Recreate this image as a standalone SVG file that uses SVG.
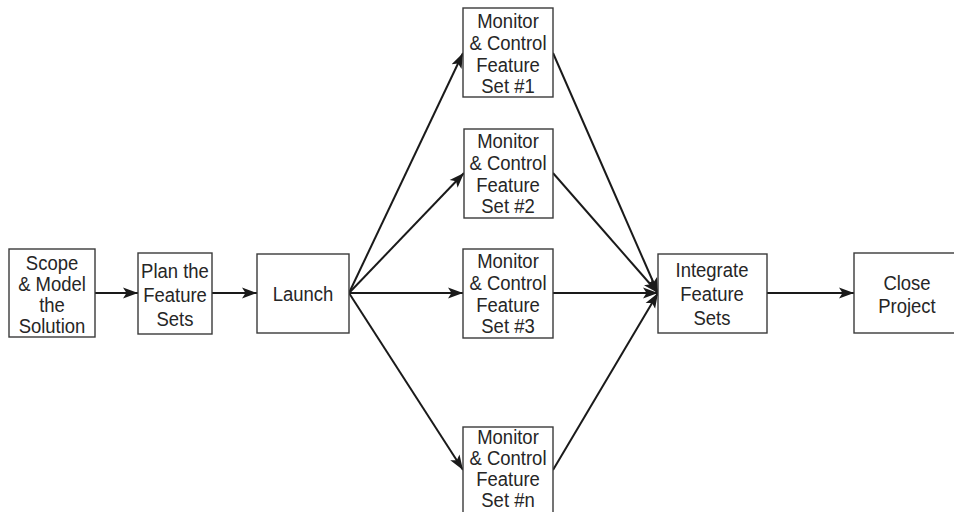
<svg xmlns="http://www.w3.org/2000/svg" width="954" height="512" viewBox="0 0 954 512">
<style>
.box{fill:#fff;stroke:#3a3a3a;stroke-width:1.4}
.lbl{font-family:"Liberation Sans",Arial,sans-serif;font-size:21px;fill:#262626;text-anchor:middle}
.con{stroke:#1a1a1a;stroke-width:2;fill:none;marker-end:url(#ah)}
</style>
<defs>
<marker id="ah" markerUnits="userSpaceOnUse" markerWidth="16" markerHeight="12" refX="15" refY="6" orient="auto">
<path d="M0,0.5 L15,6 L0,11.5 L3.5,6 Z" fill="#1a1a1a"/>
</marker>
</defs>
<rect width="954" height="512" fill="#fff"/>
<g id="connectors">
<line class="con" x1="95" y1="293" x2="138" y2="293"/>
<line class="con" x1="212" y1="293" x2="257" y2="293"/>
<line class="con" x1="349" y1="293" x2="463" y2="53"/>
<line class="con" x1="349" y1="293" x2="464" y2="173"/>
<line class="con" x1="349" y1="293" x2="463" y2="293"/>
<line class="con" x1="349" y1="293" x2="463" y2="470"/>
<line class="con" x1="553" y1="53" x2="658" y2="293"/>
<line class="con" x1="553" y1="173" x2="658" y2="293"/>
<line class="con" x1="553" y1="293" x2="658" y2="293"/>
<line class="con" x1="553" y1="470" x2="658" y2="293"/>
<line class="con" x1="767" y1="293" x2="854" y2="293"/>
</g>
<g id="scope">
<rect class="box" x="9" y="249" width="86" height="88"/>
<text class="lbl" transform="translate(52,0) scale(0.88,1)"><tspan x="0" y="270">Scope</tspan><tspan x="0" y="291">&amp; Model</tspan><tspan x="0" y="312">the</tspan><tspan x="0" y="333">Solution</tspan></text>
</g>
<g id="plan">
<rect class="box" x="138" y="253" width="74" height="81"/>
<text class="lbl" transform="translate(175,0) scale(0.88,1)"><tspan x="0" y="278">Plan the</tspan><tspan x="0" y="302">Feature</tspan><tspan x="0" y="326">Sets</tspan></text>
</g>
<g id="launch">
<rect class="box" x="257" y="254" width="92" height="79"/>
<text class="lbl" transform="translate(303,0) scale(0.88,1)"><tspan x="0" y="301">Launch</tspan></text>
</g>
<g id="mc1">
<rect class="box" x="463" y="8" width="90" height="89"/>
<text class="lbl" transform="translate(508,0) scale(0.88,1)"><tspan x="0" y="28">Monitor</tspan><tspan x="0" y="50">&amp; Control</tspan><tspan x="0" y="72">Feature</tspan><tspan x="0" y="93">Set #1</tspan></text>
</g>
<g id="mc2">
<rect class="box" x="464" y="129" width="89" height="89"/>
<text class="lbl" transform="translate(508,0) scale(0.88,1)"><tspan x="0" y="148">Monitor</tspan><tspan x="0" y="170">&amp; Control</tspan><tspan x="0" y="192">Feature</tspan><tspan x="0" y="213">Set #2</tspan></text>
</g>
<g id="mc3">
<rect class="box" x="463" y="249" width="90" height="89"/>
<text class="lbl" transform="translate(508,0) scale(0.88,1)"><tspan x="0" y="268">Monitor</tspan><tspan x="0" y="290">&amp; Control</tspan><tspan x="0" y="312">Feature</tspan><tspan x="0" y="333">Set #3</tspan></text>
</g>
<g id="mcn">
<rect class="box" x="463" y="427" width="90" height="89"/>
<text class="lbl" transform="translate(508,0) scale(0.88,1)"><tspan x="0" y="444">Monitor</tspan><tspan x="0" y="465">&amp; Control</tspan><tspan x="0" y="486">Feature</tspan><tspan x="0" y="507">Set #n</tspan></text>
</g>
<g id="integrate">
<rect class="box" x="658" y="254" width="109" height="79"/>
<text class="lbl" transform="translate(712,0) scale(0.88,1)"><tspan x="0" y="277">Integrate</tspan><tspan x="0" y="301">Feature</tspan><tspan x="0" y="325">Sets</tspan></text>
</g>
<g id="close">
<rect class="box" x="854" y="253" width="108" height="80"/>
<text class="lbl" transform="translate(907,0) scale(0.88,1)"><tspan x="0" y="290">Close</tspan><tspan x="0" y="313">Project</tspan></text>
</g>
</svg>
